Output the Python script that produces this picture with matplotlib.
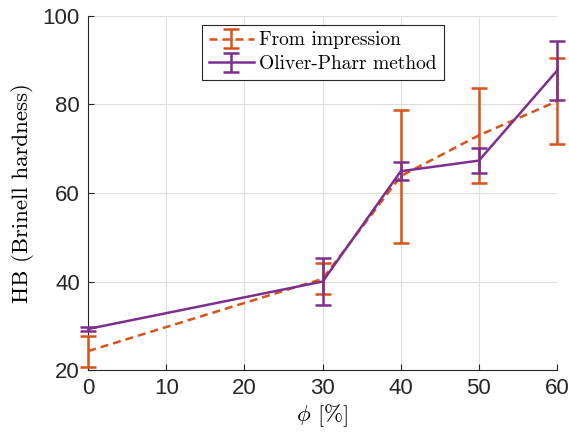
import matplotlib
matplotlib.use("Agg")
import matplotlib.pyplot as plt

plt.rcParams['font.family'] = ['Liberation Sans', 'DejaVu Sans']
plt.rcParams['mathtext.fontset'] = 'cm'

# data
phi = [0, 30, 40, 50, 60]
hb_imp = [24.3, 40.6, 63.8, 73.0, 80.7]
err_imp = [3.5, 3.5, 15.0, 10.7, 9.7]
hb_op = [29.3, 40.0, 64.9, 67.3, 87.6]
err_op = [0.5, 5.4, 2.0, 2.8, 6.7]

orange = '#D95319'
purple = '#7E2F8E'
serif = 'cmr10'

fig = plt.figure(figsize=(5.69, 4.37), dpi=100)
ax = fig.add_axes([0.155, 0.153, 0.824, 0.811])

eb1 = ax.errorbar(phi, hb_imp, yerr=err_imp, color=orange, ls='--', lw=1.8,
                  capsize=5.5, capthick=1.8, elinewidth=1.8, dashes=(3.2, 2.0),
                  label='From impression', zorder=3)
eb2 = ax.errorbar(phi, hb_op, yerr=err_op, color=purple, ls='-', lw=1.8,
                  capsize=5.5, capthick=1.8, elinewidth=1.8,
                  label='Oliver-Pharr method', zorder=3.1)
for eb in (eb1, eb2):
    for art in eb.get_children():
        art.set_clip_on(False)

ax.set_xlim(0, 60)
ax.set_ylim(20, 100)
ax.set_xticks(range(0, 61, 10))
ax.set_yticks(range(20, 101, 20))
ax.tick_params(direction='in', labelsize=16, length=4, colors='#262626',
               top=False, right=False, pad=6)
ax.grid(True, color='#dedede', lw=0.8)
ax.set_axisbelow(True)
for s in ['top', 'right']:
    ax.spines[s].set_visible(False)
for s in ['left', 'bottom']:
    ax.spines[s].set_color('#262626')

ax.set_xlabel(r'$\phi$ [%]', fontsize=16.5, family=serif, labelpad=2)
ax.set_ylabel('HB (Brinell hardness)', fontsize=16.5, family=serif, labelpad=6)

leg = ax.legend(loc='upper left', bbox_to_anchor=(0.243, 0.975),
                prop={'family': serif, 'size': 14},
                fancybox=False, edgecolor='#262626', framealpha=1,
                handlelength=2.3, borderpad=0.35, labelspacing=0.3,
                handletextpad=0.3, borderaxespad=0)
leg.get_frame().set_linewidth(0.8)
leg.set_zorder(5)

fig.savefig('out.png', dpi=100)
